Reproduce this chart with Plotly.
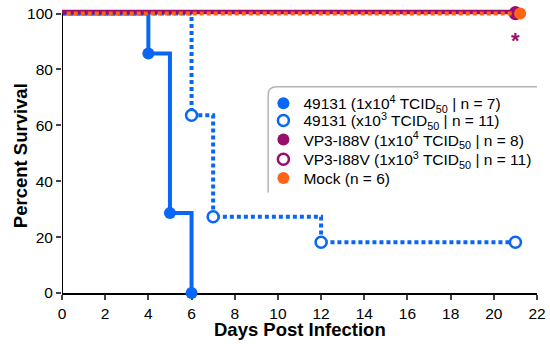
import plotly.graph_objects as go

# ---- data ----
days_49131_hi = [0, 4, 5, 6]
surv_49131_hi = [100, 85.7, 28.6, 0]
days_49131_lo = [0, 6, 7, 12, 21]
surv_49131_lo = [100, 63.6, 27.3, 18.2, 18.2]
days_vp3_hi = [0, 21]
surv_vp3_hi = [100, 100]
days_vp3_lo = [0, 21]
surv_vp3_lo = [100, 100]
days_mock = [0, 21]
surv_mock = [100, 100]

names = [
    "49131 (1x10<sup>4</sup> TCID<sub>50</sub> | n = 7)",
    "49131 (x10<sup>3</sup> TCID<sub>50</sub> | n = 11)",
    "VP3-I88V (1x10<sup>4</sup> TCID<sub>50</sub> | n = 8)",
    "VP3-I88V (1x10<sup>3</sup> TCID<sub>50</sub> | n = 11)",
    "Mock (n = 6)",
]
x_ticks = list(range(0, 23, 2))
y_ticks = [0, 20, 40, 60, 80, 100]

BLUE = "#0A66F5"
MAG = "#9C0C6C"
ORG = "#FF6414"
FONT = "Liberation Sans, Arial, Helvetica, sans-serif"
DOT = "4px,3px"

fig = go.Figure()

# ---- step lines ----
fig.add_trace(go.Scatter(x=days_mock, y=surv_mock, mode="lines", line_shape="hv",
                         line=dict(color=ORG, width=4, dash=DOT), showlegend=False,
                         xaxis="x2", yaxis="y", hoverinfo="skip"))
fig.add_trace(go.Scatter(x=days_49131_lo, y=surv_49131_lo, mode="lines", line_shape="hv",
                         line=dict(color=BLUE, width=4, dash=DOT), showlegend=False,
                         hoverinfo="skip"))
fig.add_trace(go.Scatter(x=days_49131_hi, y=surv_49131_hi, mode="lines", line_shape="hv",
                         line=dict(color=BLUE, width=4), showlegend=False, hoverinfo="skip"))
fig.add_trace(go.Scatter(x=days_vp3_lo, y=surv_vp3_lo, mode="lines", line_shape="hv",
                         line=dict(color=MAG, width=4, dash=DOT), showlegend=False,
                         yaxis="y2", hoverinfo="skip"))
fig.add_trace(go.Scatter(x=days_vp3_hi, y=surv_vp3_hi, mode="lines", line_shape="hv",
                         line=dict(color=MAG, width=4.5), showlegend=False,
                         yaxis="y2", hoverinfo="skip"))

# ---- markers (events / endpoints) ----
fig.add_trace(go.Scatter(x=days_mock[1:], y=surv_mock[1:], mode="markers", name=names[4],
                         marker=dict(color=ORG, size=12, line=dict(width=0)),
                         xaxis="x2", yaxis="y", cliponaxis=False, legend="legend5"))
fig.add_trace(go.Scatter(x=days_vp3_lo[1:], y=surv_vp3_lo[1:], mode="markers", name=names[3],
                         marker=dict(color="white", size=11, line=dict(color=MAG, width=2.5)),
                         cliponaxis=False, legend="legend4"))
fig.add_trace(go.Scatter(x=days_vp3_hi[1:], y=surv_vp3_hi[1:], mode="markers", name=names[2],
                         marker=dict(color=MAG, size=12, line=dict(width=0)),
                         yaxis="y2", cliponaxis=False, legend="legend3"))
fig.add_trace(go.Scatter(x=days_49131_lo[1:], y=surv_49131_lo[1:], mode="markers", name=names[1],
                         marker=dict(color="white", size=11, line=dict(color=BLUE, width=2.5)),
                         cliponaxis=False, legend="legend2"))
fig.add_trace(go.Scatter(x=days_49131_hi[1:], y=surv_49131_hi[1:], mode="markers", name=names[0],
                         marker=dict(color=BLUE, size=12, line=dict(width=0)),
                         cliponaxis=False, legend="legend"))

# significance asterisk
fig.add_annotation(x=21, y=90.5, xref="x", yref="y", text="<b>*</b>", showarrow=False,
                   font=dict(color=MAG, size=22, family=FONT))

# axis titles
fig.add_annotation(x=0.5, y=0, xref="paper", yref="paper", yshift=-36, yanchor="middle",
                   text="<b>Days Post Infection</b>", showarrow=False,
                   font=dict(size=18.5, family=FONT, color="black"))
fig.add_annotation(x=0, y=0.48, xref="paper", yref="paper", xshift=-42, xanchor="center",
                   yanchor="middle", textangle=-90,
                   text="<b>Percent Survival</b>", showarrow=False,
                   font=dict(size=18.5, family=FONT, color="black"))

# y axis line from 0 to 100 only
fig.add_shape(type="line", xref="x", yref="y", x0=0, x1=0, y0=0, y1=100,
              line=dict(color="black", width=2), layer="above")

# legend frame (rounded top-left corner, shadow-like)
fig.add_shape(type="path", xref="x", yref="y",
              path="M 9.55,36 L 9.55,71 Q 9.55,73.8 9.95,73.8 L 22,73.8",
              line=dict(color="#b5b5b5", width=1.5), layer="below")

leg_common = dict(xanchor="left", yanchor="middle", bgcolor="rgba(0,0,0,0)", borderwidth=0,
                  font=dict(size=15.5, family=FONT, color="black"), itemwidth=30)
leg_x = 0.424
leg_rows = [0.664, 0.604, 0.537, 0.468, 0.402]

fig.update_layout(
    width=550, height=344,
    margin=dict(l=62, r=13, t=8, b=51),
    paper_bgcolor="white", plot_bgcolor="white",
    font=dict(family=FONT, color="black", size=14),
    showlegend=True,
    legend=dict(x=leg_x, y=leg_rows[0], **leg_common),
    legend2=dict(x=leg_x, y=leg_rows[1], **leg_common),
    legend3=dict(x=leg_x, y=leg_rows[2], **leg_common),
    legend4=dict(x=leg_x, y=leg_rows[3], **leg_common),
    legend5=dict(x=leg_x, y=leg_rows[4], **leg_common),
    xaxis=dict(range=[0, 22], tickvals=x_ticks, ticks="outside", ticklen=5, tickwidth=2,
               showline=True, linecolor="black", linewidth=2, showgrid=False, zeroline=False,
               tickfont=dict(size=15.5), layer="below traces", automargin=False),
    xaxis2=dict(range=[-0.22, 21.78], overlaying="x", visible=False),
    yaxis=dict(range=[0, 102], tickvals=y_ticks, ticks="outside", ticklen=5, tickwidth=2,
               showline=False, showgrid=False, zeroline=False, tickfont=dict(size=15.5),
               layer="below traces", automargin=False, ticklabeloverflow="allow"),
    yaxis2=dict(range=[-0.6, 101.4], overlaying="y", visible=False),
)

fig.write_html("out.html", config={"displayModeBar": False},
               post_script="document.body.style.margin='0px';")
